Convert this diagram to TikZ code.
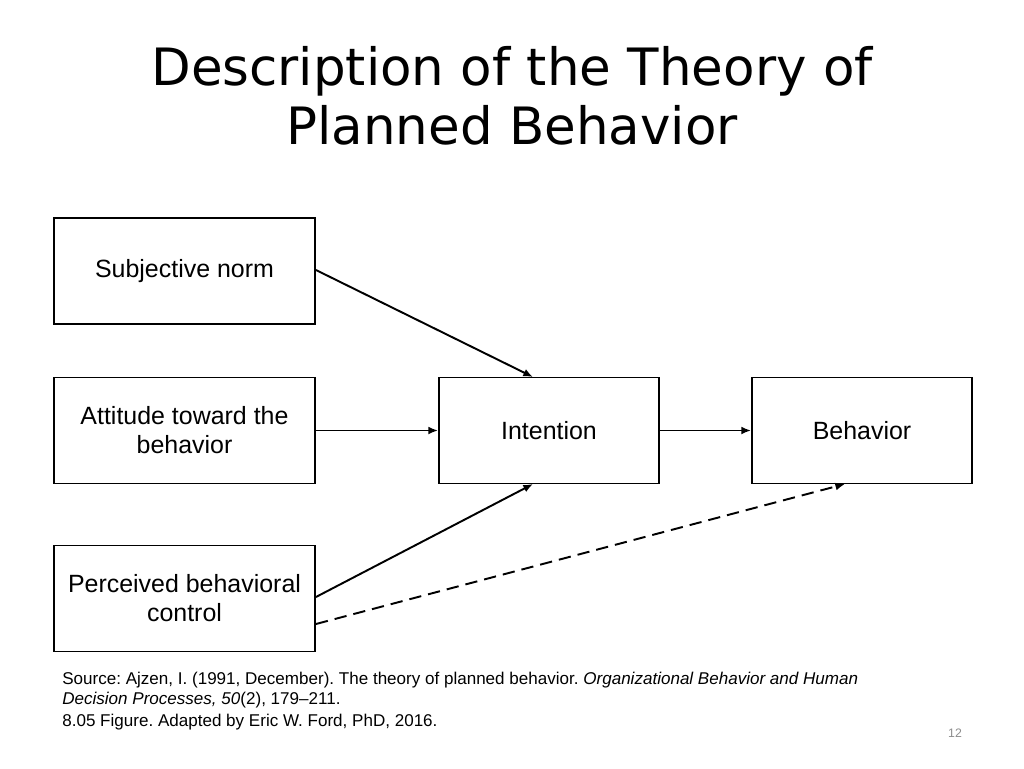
\documentclass[tikz,border=0pt]{standalone}
\usepackage{fontspec}
\setmainfont{Liberation Sans}
\newfontfamily\titlefont{DejaVu Sans}
\usetikzlibrary{arrows.meta}
\begin{document}
\begin{tikzpicture}[x=0.02cm,y=-0.02cm,
  box/.style={draw, line width=1.1pt, minimum height=2.12cm, align=center, font=\fontsize{14.2}{16.5}\selectfont, inner sep=0pt},
  sidebox/.style={box, minimum width=5.22cm},
  midbox/.style={box, minimum width=4.4cm},
  conn/.style={line width=1.1pt, -{Latex[length=5.5pt,width=4.5pt]}},
  ttl/.style={anchor=base, inner sep=0pt, font=\titlefont\fontsize{29.3}{34}\selectfont},
  txt/.style={anchor=base west, inner sep=0pt, font=\fontsize{9.7}{11}\selectfont}]
\useasboundingbox (0,0) rectangle (1024,768);
\node[ttl] (title1) at (512,85) {Description of the Theory of};
\node[ttl] (title2) at (512,144) {Planned Behavior};
\node[sidebox] (sn) at (184.5,271) {Subjective norm};
\node[sidebox] (att) at (184.5,430.5) {Attitude toward the\\behavior};
\node[sidebox] (pbc) at (184.5,598.5) {Perceived behavioral\\control};
\node[midbox] (int) at (549,430.5) {Intention};
\node[midbox] (beh) at (862,430.5) {Behavior};
\coordinate (intTop) at (533,377);
\coordinate (intBot) at (533,484);
\coordinate (behBot) at (845,484);
\draw[conn] (sn.east |- 0,270) -- (intTop);
\draw[conn] (att.east) -- (int.west);
\draw[conn] (pbc.east |- 0,597) -- (intBot);
\draw[conn] (int.east) -- (beh.west);
\draw[conn, dash pattern=on 7pt off 4pt] (pbc.east |- 0,624) -- (behBot);
\frenchspacing
\node[txt] (src1) at (62,684) {Source: Ajzen, I. (1991, December). The theory of planned behavior. \textit{Organizational Behavior and Human}};
\node[txt] (src2) at (62,704) {\textit{Decision Processes, 50}(2), 179–211.};
\node[txt] (src3) at (62,726) {8.05 Figure. Adapted by Eric W. Ford, PhD, 2016.};
\node[anchor=base, inner sep=0pt, font=\fontsize{7}{8}\selectfont, text=black!45] (pg) at (955,737) {12};
\end{tikzpicture}
\end{document}
